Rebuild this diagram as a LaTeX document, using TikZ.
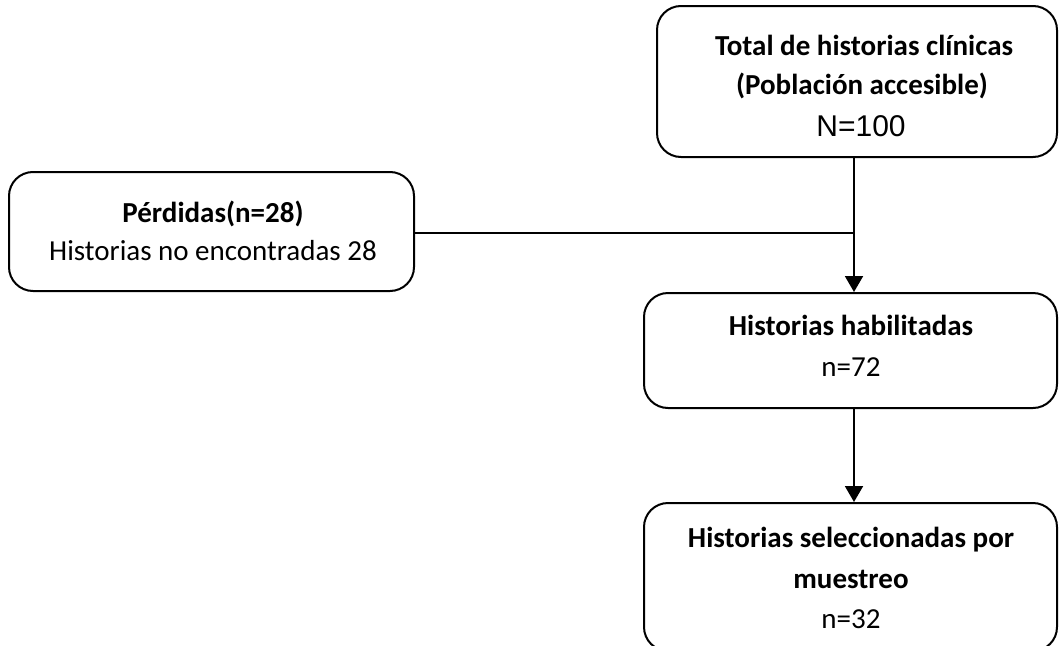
\documentclass[tikz,border=0pt]{standalone}
\usepackage{fontspec}
\setmainfont{Carlito}
\newfontfamily\arialfont{Liberation Sans}
\usetikzlibrary{arrows.meta}
\begin{document}
\begin{tikzpicture}[x=1pt,y=-1pt,
  box/.style={draw=black, line width=2pt, rounded corners=24pt, inner sep=0pt},
  txt/.style={anchor=base, inner sep=0pt, font=\fontsize{29}{35}\selectfont},
  btxt/.style={txt, font=\fontsize{29}{35}\selectfont\bfseries},
  ntxt/.style={anchor=base, inner sep=0pt, font={\arialfont\fontsize{30}{36}\selectfont}},
  conn/.style={line width=2pt},
  arr/.style={conn, -{Triangle[length=16pt,width=18pt]}}]
\useasboundingbox (0,0) rectangle (1059,645);
% boxes
\node[box, minimum width=400pt, minimum height=151pt] (total) at (857,81.5) {};
\node[box, minimum width=405pt, minimum height=119pt] (perd) at (211.5,231.5) {};
\node[box, minimum width=413pt, minimum height=115pt] (hab) at (850.5,350.5) {};
\node[box, minimum width=413pt, minimum height=148pt] (sel) at (850.5,577) {};
% texts
\node[btxt] (t1) at (864,55) {Total de historias clínicas};
\node[btxt] (t2) at (862,94) {(Población accesible)};
\node[ntxt] (t3) at (861,136) {N=100};
\node[btxt] (p1) at (213,222) {Pérdidas(n=28)};
\node[txt] (p2) at (213,260) {Historias no encontradas 28};
\node[btxt] (h1) at (851,335) {Historias habilitadas};
\node[txt] (h2) at (851,376) {n=72};
\node[btxt] (s1) at (851,547) {Historias seleccionadas por};
\node[btxt] (s2) at (851,588) {muestreo};
\node[txt] (s3) at (851,628) {n=32};
% connectors
\coordinate (vx) at (854,0);
\draw[arr] (total.south -| vx) -- (hab.north -| vx);
\draw[conn] (perd.east |- 0,233) -- (vx |- 0,233);
\draw[arr] (hab.south -| vx) -- (sel.north -| vx);
\end{tikzpicture}
\end{document}
